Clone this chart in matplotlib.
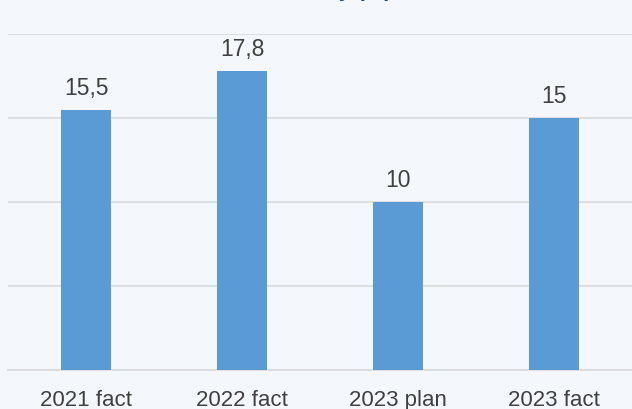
import matplotlib.pyplot as plt

categories = ['2021 fact', '2022 fact', '2023 plan', '2023 fact']
values = [15.5, 17.8, 10, 15]
labels = ['15,5', '17,8', '10', '15']

plt.rcParams['font.family'] = ['Liberation Sans', 'DejaVu Sans']
bg = '#F4F7FC'

fig = plt.figure(figsize=(6.32, 4.10), dpi=100, facecolor=bg)
ax = fig.add_axes([8 / 632, 39 / 410, 624 / 632, 336 / 410], facecolor=bg)

x = range(len(categories))
ax.bar(x, values, width=0.315, color='#5B9BD5', zorder=3)
for xi, v, lab in zip(x, values, labels):
    ax.annotate(lab, (xi, v), xytext=(0, 11.5), textcoords='offset points',
                ha='center', va='baseline', fontsize=16.5, color='#404040')

ax.set_xlim(-0.5, 3.5)
ax.set_ylim(0, 20)
ax.set_yticks([0, 5, 10, 15, 20])
ax.yaxis.grid(True, color='#D9D9D9', linewidth=1.2, zorder=0)
ax.set_xticks(list(x))
ax.set_xticklabels(categories, fontsize=16, color='#404040')
ax.tick_params(axis='x', length=0, pad=14)
ax.tick_params(axis='y', length=0, labelleft=False)
for s in ['top', 'right', 'left']:
    ax.spines[s].set_visible(False)
ax.spines['bottom'].set_color('#D9D9D9')
ax.spines['bottom'].set_linewidth(1.2)

# title mostly cut off at the top of the image
fig.text(392 / 632, 1.0 + 4 / 410, 'Profitability (%)', ha='right', va='baseline',
         fontsize=16, fontweight='bold', color='#1F4E79')

fig.savefig('out.png', dpi=100, facecolor=bg)
